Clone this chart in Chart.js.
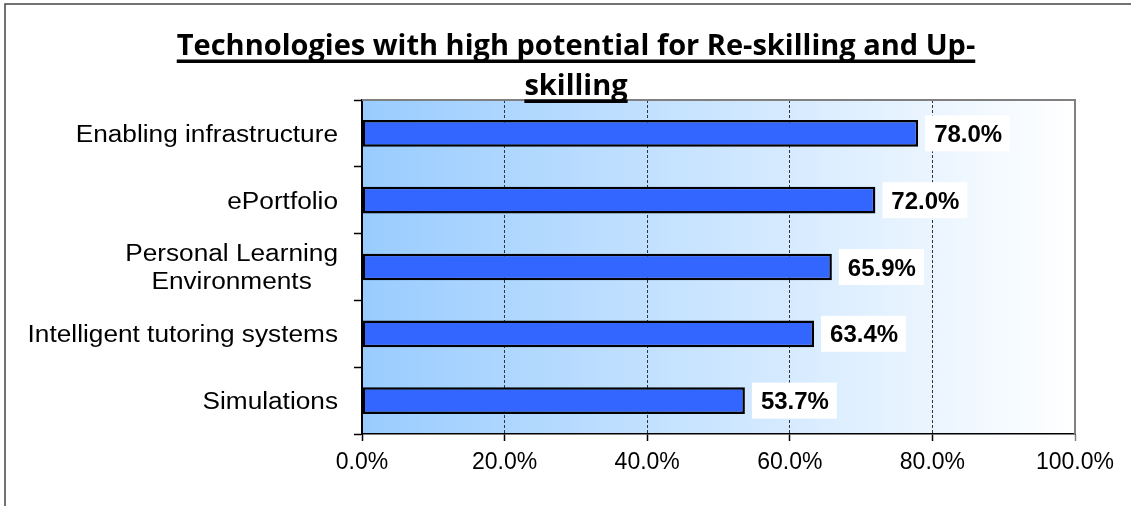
<!DOCTYPE html>
<html>
<head>
<meta charset="utf-8">
<title>Technologies with high potential for Re-skilling and Up-skilling</title>
<script src="https://cdn.jsdelivr.net/npm/chart.js@4"></script>
<style>
  html, body { margin: 0; padding: 0; background: #fff; }
  #wrap { position: relative; width: 1131px; height: 506px; }
</style>
</head>
<body>
<div id="wrap"><canvas id="techChart"></canvas></div>
<script>
const chartTitle = ['Technologies with high potential for Re-skilling and Up-', 'skilling'];
const categories = [
    'Enabling infrastructure',
    'ePortfolio',
    ['Personal Learning', 'Environments'],
    'Intelligent tutoring systems',
    'Simulations'
];
const shares = [78.0, 72.0, 65.9, 63.4, 53.7];
const xTicks = [0, 20, 40, 60, 80, 100];

const pct = v => v.toFixed(1) + '%';

// gradient behind the plot + the frame round the whole chart
const plotBackground = {
    id: 'plotBackground',
    beforeDraw(chart) {
        const { ctx, chartArea: a } = chart;
        const g = ctx.createLinearGradient(a.left, 0, a.right, 0);
        g.addColorStop(0, '#99ccff');
        g.addColorStop(1, '#ffffff');
        ctx.save();
        ctx.fillStyle = g;
        ctx.fillRect(a.left, a.top, a.right - a.left, a.bottom - a.top);

        ctx.strokeStyle = '#444';
        ctx.lineWidth = 1.5;
        ctx.beginPath();
        ctx.moveTo(5, chart.height);
        ctx.lineTo(5, 4);
        ctx.lineTo(chart.width, 4);
        ctx.stroke();
        ctx.restore();
    }
};

// plot border, category labels, value boxes and the underlined title
const chartDecor = {
    id: 'chartDecor',
    afterDraw(chart) {
        const { ctx, chartArea: a } = chart;
        const yScale = chart.scales.y;
        ctx.save();

        // grey top and right edge of the plot
        ctx.strokeStyle = '#808080';
        ctx.lineWidth = 2;
        ctx.beginPath();
        ctx.moveTo(a.left, a.top);
        ctx.lineTo(a.right, a.top);
        ctx.lineTo(a.right, a.bottom);
        ctx.stroke();

        // category labels (slightly widened type), multi-line ones centred on each other
        const stretch = 1.14;
        ctx.font = '23px "Liberation Sans"';
        ctx.fillStyle = '#000';
        ctx.textAlign = 'center';
        ctx.textBaseline = 'alphabetic';
        categories.forEach((label, i) => {
            const lines = [].concat(label);
            const w = Math.max(...lines.map(l => ctx.measureText(l).width)) * stretch;
            const cx = yScale.right - 24 - w / 2;
            const cy = yScale.getPixelForTick(i);
            lines.forEach((l, j) => {
                ctx.save();
                ctx.translate(cx, cy + (j - (lines.length - 1) / 2) * 28.3 + 8.3);
                ctx.scale(stretch, 1);
                ctx.fillText(l, 0, 0);
                ctx.restore();
            });
        });

        // value labels in white boxes
        ctx.font = 'bold 24px "Liberation Sans"';
        ctx.textAlign = 'left';
        chart.getDatasetMeta(0).data.forEach((bar, i) => {
            const txt = pct(shares[i]);
            const w = ctx.measureText(txt).width;
            const x0 = bar.x + 7;
            ctx.fillStyle = '#fff';
            ctx.fillRect(x0, bar.y - 18, w + 17, 36);
            ctx.fillStyle = '#000';
            ctx.fillText(txt, x0 + 9, bar.y + 8.6);
        });

        // title
        ctx.font = 'bold 29px "Open Sans"';
        ctx.textAlign = 'center';
        const tx = 576;
        const baselines = [55, 95];
        chartTitle.forEach((line, i) => {
            const w = ctx.measureText(line).width;
            ctx.fillText(line, tx, baselines[i]);
            ctx.fillRect(tx - w / 2, baselines[i] + 4.5, w, 3.5);
        });

        ctx.restore();
    }
};

function drawChart() {
    new Chart(document.getElementById('techChart'), {
        type: 'bar',
        data: {
            labels: categories,
            datasets: [{
                data: shares,
                backgroundColor: '#3366ff',
                borderColor: '#000',
                borderWidth: 2.5,
                borderSkipped: false,
                categoryPercentage: 1,
                barPercentage: 0.4
            }]
        },
        options: {
            indexAxis: 'y',
            responsive: true,
            maintainAspectRatio: false,
            animation: false,
            layout: { padding: { top: 100, right: 56, left: 0, bottom: 0 } },
            plugins: {
                legend: { display: false },
                tooltip: { enabled: false },
                title: { display: false }
            },
            scales: {
                x: {
                    min: 0,
                    max: 100,
                    afterBuildTicks: axis => { axis.ticks = xTicks.map(v => ({ value: v })); },
                    afterFit: axis => { axis.height = 72; },
                    ticks: {
                        font: { family: '"Liberation Sans", Arial', size: 23 },
                        color: '#000',
                        padding: 8,
                        maxRotation: 0,
                        callback: v => pct(v)
                    },
                    grid: {
                        color: c => (c.tick && (c.tick.value === 0 || c.tick.value === 100)) ? 'rgba(0,0,0,0)' : '#333',
                        lineWidth: 1,
                        tickLength: 7,
                        tickWidth: 1.5,
                        tickColor: c => (c.tick && c.tick.value === 100) ? '#808080' : '#000',
                        tickBorderDash: []
                    },
                    border: { color: '#000', width: 1.5, dash: [3, 2] }
                },
                y: {
                    afterFit: axis => { axis.width = 362; },
                    ticks: { display: false },
                    grid: {
                        drawOnChartArea: false,
                        offset: true,
                        tickLength: 8,
                        tickWidth: 1.5,
                        tickColor: '#000'
                    },
                    border: { color: '#000', width: 2 }
                }
            }
        },
        plugins: [plotBackground, chartDecor]
    });
}

Promise.all([
    document.fonts.load('23px "Liberation Sans"'),
    document.fonts.load('bold 24px "Liberation Sans"'),
    document.fonts.load('bold 29px "Open Sans"')
]).then(drawChart, drawChart);
</script>
</body>
</html>
